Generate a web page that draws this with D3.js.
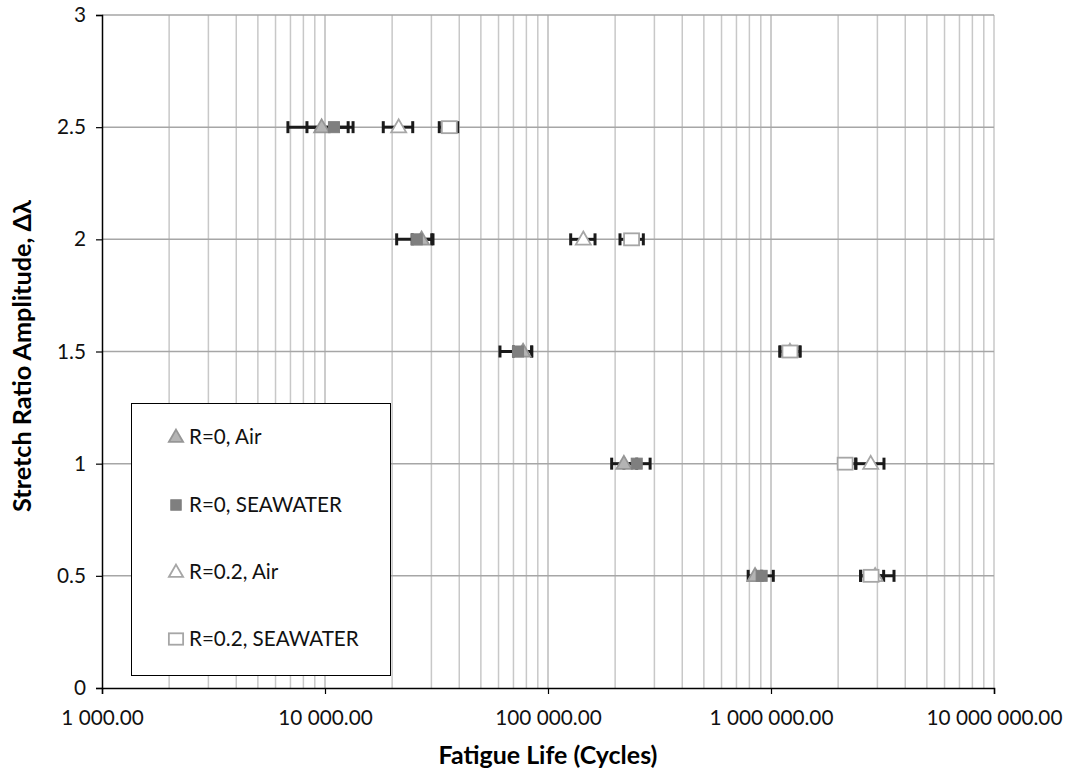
<!DOCTYPE html>
<html><head><meta charset="utf-8">
<script src="https://cdn.jsdelivr.net/npm/d3@7"></script>
<style>
html,body{margin:0;padding:0;background:#fff;}
text{font-family:Lato,"Open Sans",sans-serif;}
</style></head>
<body><svg id="chart" width="1073" height="774"></svg>
<script>
// ---- data ----
const amplitudes = [2.5, 2.0, 1.5, 1.0, 0.5];
const seriesNames = ["R=0, Air", "R=0, SEAWATER", "R=0.2, Air", "R=0.2, SEAWATER"];
// fatigue life (cycles) per amplitude
const r0Air      = [9660, 27100, 77300, 219000, 848000];
const r0Sea      = [10970, 25800, 73400, 250000, 908000];
const r02Air     = [21400, 144000, 1216000, 2800000, 2930000];
const r02Sea     = [36100, 237000, 1216000, 2150000, 2810000];
// error bar extents (cycles)
const r0AirLo    = [6820, 20960, 60900, 193000, 790000];
const r0AirHi    = [12700, 30100, 84500, 250000, 908000];
const r0SeaLo    = [8300, 24600, 70000, 219000, 850000];
const r0SeaHi    = [13360, 30500, 84500, 287000, 1024000];
const r02AirLo   = [18250, 126400, 1097000, 2400000, 2523000];
const r02AirHi   = [24740, 162500, 1349000, 3211000, 3561000];
const r02SeaLo   = [32540, 210300, 1097000, 2025000, 2523000];
const r02SeaHi   = [39360, 267600, 1349000, 2400000, 3200000];
const yTicks = [0, 0.5, 1, 1.5, 2, 2.5, 3];
const xTicks = [1e3, 1e4, 1e5, 1e6, 1e7];

const series = [
  {name: seriesNames[0], vals: r0Air, lo: r0AirLo, hi: r0AirHi, type: "tri", fill: "#b4b4b4", stroke: "#969696"},
  {name: seriesNames[1], vals: r0Sea, lo: r0SeaLo, hi: r0SeaHi, type: "sq", fill: "#7f7f7f", stroke: "#7f7f7f"},
  {name: seriesNames[2], vals: r02Air, lo: r02AirLo, hi: r02AirHi, type: "tri", fill: "#ffffff", stroke: "#a6a6a6"},
  {name: seriesNames[3], vals: r02Sea, lo: r02SeaLo, hi: r02SeaHi, type: "sqo", fill: "#ffffff", stroke: "#a6a6a6"}
];

const svg = d3.select("#chart");
const L = 102, R = 994, T = 15, B = 688;
const x = d3.scaleLog().domain([1e3, 1e7]).range([L, R]);
const y = d3.scaleLinear().domain([0, 3]).range([B, T]);

// size a font so a sample string reaches a target width
function fitSize(str, target, weight) {
  const t = svg.append("text").style("font-size", "20px").style("font-weight", weight || "normal").text(str);
  const w = t.node().getComputedTextLength();
  t.remove();
  return 20 * target / w;
}
const tickFs = fitSize("10 000 000.00", 136);
const legFs = fitSize("R=0, SEAWATER", 153);
const xTitleFs = fitSize("Fatigue Life (Cycles)", 219, "bold");
const yTitleFs = fitSize("Stretch Ratio Amplitude, Δλ", 312, "bold");

// minor + major vertical grid
const gridX = [];
for (let d = 1e3; d < 1e7; d *= 10) for (let k = 1; k <= 10; k++) gridX.push(d * k);
svg.append("g").selectAll("line").data(gridX.filter(v => v > 1e3)).join("line")
  .attr("x1", d => x(d)).attr("x2", d => x(d)).attr("y1", T).attr("y2", B)
  .attr("stroke", "#c8c8c8").attr("stroke-width", 1.5);
// horizontal grid
svg.append("g").selectAll("line").data(yTicks.filter(v => v > 0)).join("line")
  .attr("x1", L).attr("x2", R).attr("y1", d => y(d)).attr("y2", d => y(d))
  .attr("stroke", "#a6a6a6").attr("stroke-width", 1.5);

// axes
const yAxis = d3.axisLeft(y).tickValues(yTicks).tickSize(6).tickPadding(10).tickFormat(d3.format("~g"));
const gy = svg.append("g").attr("transform", `translate(${L},0)`).call(yAxis);
const fmt = d3.format(",.2f");
const xAxis = d3.axisBottom(x).tickValues(xTicks).tickSize(6)
  .tickFormat(d => fmt(d).replace(/,/g, " "));
const gx = svg.append("g").attr("transform", `translate(0,${B})`).call(xAxis);
[gx, gy].forEach(g => {
  g.select(".domain").attr("stroke", "#000").attr("stroke-width", 1.5);
  g.selectAll(".tick line").attr("stroke", "#000").attr("stroke-width", 1.2);
  g.selectAll("text").attr("fill", "#111").style("font-size", tickFs + "px");
});
gx.selectAll(".tick text").attr("y", 725 - B).attr("dy", 0);

// error bars
const eb = svg.append("g");
series.forEach(s => {
  amplitudes.forEach((a, i) => {
    const yy = y(a), x0 = x(s.lo[i]), x1 = x(s.hi[i]);
    eb.append("line").attr("x1", x0).attr("x2", x1).attr("y1", yy).attr("y2", yy)
      .attr("stroke", "#1a1a1a").attr("stroke-width", 3);
    [x0, x1].forEach(xx => eb.append("line").attr("x1", xx).attr("x2", xx)
      .attr("y1", yy - 6).attr("y2", yy + 6).attr("stroke", "#1a1a1a").attr("stroke-width", 3));
  });
});

function drawMarker(g, type, cx, cy, fill, stroke, scale) {
  scale = scale || 1;
  if (type === "tri") {
    const w = 15 * scale, h = 13 * scale;
    g.append("path").attr("d", `M${cx},${cy - h * 0.6}L${cx + w / 2},${cy + h * 0.4}L${cx - w / 2},${cy + h * 0.4}Z`)
      .attr("fill", fill).attr("stroke", stroke).attr("stroke-width", 1.8);
  } else if (type === "sq") {
    const w = 11 * scale;
    g.append("rect").attr("x", cx - w / 2).attr("y", cy - w / 2).attr("width", w).attr("height", w)
      .attr("fill", fill).attr("stroke", stroke).attr("stroke-width", 1);
  } else {
    const w = 15 * scale, h = 12 * scale;
    g.append("rect").attr("x", cx - w / 2).attr("y", cy - h / 2).attr("width", w).attr("height", h)
      .attr("fill", fill).attr("stroke", stroke).attr("stroke-width", 1.8);
  }
}
const mk = svg.append("g");
series.forEach(s => {
  amplitudes.forEach((a, i) => drawMarker(mk, s.type, x(s.vals[i]), y(a), s.fill, s.stroke));
});

// legend
const lg = svg.append("g");
lg.append("rect").attr("x", 131.5).attr("y", 403.5).attr("width", 259).attr("height", 272)
  .attr("fill", "#fff").attr("stroke", "#000").attr("stroke-width", 1);
const legY = [437, 505, 572, 639];
series.forEach((s, i) => {
  drawMarker(lg, s.type, 176, legY[i], s.fill, s.stroke, 0.95);
  lg.append("text").attr("x", 189).attr("y", legY[i]).attr("dy", "0.35em")
    .style("font-size", legFs + "px").attr("fill", "#111").text(s.name);
});

// axis titles
svg.append("text").attr("transform", "translate(31,356) rotate(-90)").attr("text-anchor", "middle")
  .style("font-size", yTitleFs + "px").style("font-weight", "bold").attr("fill", "#000")
  .text("Stretch Ratio Amplitude, Δλ");
svg.append("text").attr("x", 548).attr("y", 764).attr("text-anchor", "middle")
  .style("font-size", xTitleFs + "px").style("font-weight", "bold").attr("fill", "#000")
  .text("Fatigue Life (Cycles)");
</script></body></html>
